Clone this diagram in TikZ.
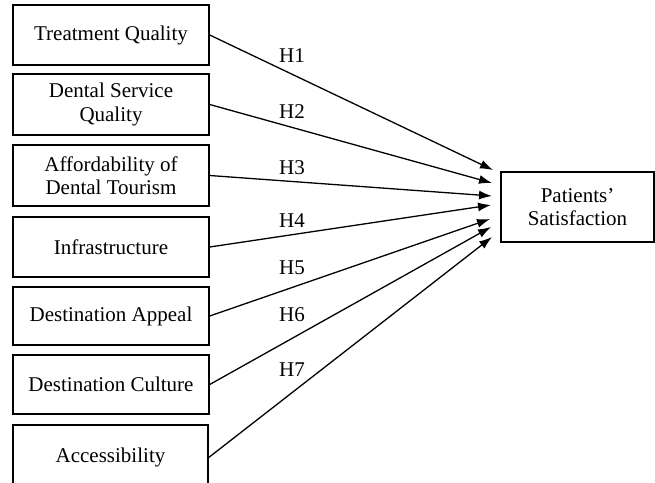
\documentclass[tikz,border=0pt]{standalone}
\usepackage{fontspec}
\setmainfont{Liberation Serif}
\usetikzlibrary{arrows.meta}
\begin{document}
\begin{tikzpicture}[x=1pt,y=-1pt,
  box/.style={draw,line width=1.4pt,align=center,inner sep=0pt,font=\fontsize{21}{23.5}\selectfont},
  lab/.style={font=\fontsize{21}{23.5}\selectfont,inner sep=0pt},
  arr/.style={line width=1.3pt,-{Latex[length=13pt,width=9pt]}}]
\useasboundingbox (0,0) rectangle (655,482);
\clip (0,0) rectangle (655,482);
\node[box,minimum width=196pt,minimum height=60pt] (b1) at (111,35) {Treatment Quality};
\node[box,minimum width=196pt,minimum height=61pt] (b2) at (111,104.5) {Dental Service\\Quality};
\node[box,minimum width=196pt,minimum height=61pt] (b3) at (111,175.5) {Affordability of\\Dental Tourism};
\node[box,minimum width=196pt,minimum height=60pt] (b4) at (111,247) {Infrastructure};
\node[box,minimum width=196pt,minimum height=58pt] (b5) at (111,316) {Destination Appeal};
\node[box,minimum width=196pt,minimum height=59pt] (b6) at (111,384.5) {Destination Culture};
\node[box,minimum width=195pt,minimum height=65pt] (b7) at (110.5,457.5) {Accessibility};
\node[box,minimum width=153pt,minimum height=70pt] (ps) at (577.5,207) {Patients’\\Satisfaction};
\coordinate (t1) at (493,170);
\coordinate (t2) at (492,183);
\coordinate (t3) at (492,196);
\coordinate (t4) at (491,205);
\coordinate (t5) at (490,219);
\coordinate (t6) at (491,227);
\coordinate (t7) at (492,237);
\draw[arr] (b1.east) -- (t1);
\draw[arr] (b2.east) -- (t2);
\draw[arr] (b3.east) -- (t3);
\draw[arr] (b4.east) -- (t4);
\draw[arr] (b5.east) -- (t5);
\draw[arr] (b6.east) -- (t6);
\draw[arr] (b7.east) -- (t7);
\node[lab] (h1) at (292,56) {H1};
\node[lab] (h2) at (292,112) {H2};
\node[lab] (h3) at (292,168) {H3};
\node[lab] (h4) at (292,221) {H4};
\node[lab] (h5) at (292,268) {H5};
\node[lab] (h6) at (292,315) {H6};
\node[lab] (h7) at (292,370) {H7};
\end{tikzpicture}
\end{document}
